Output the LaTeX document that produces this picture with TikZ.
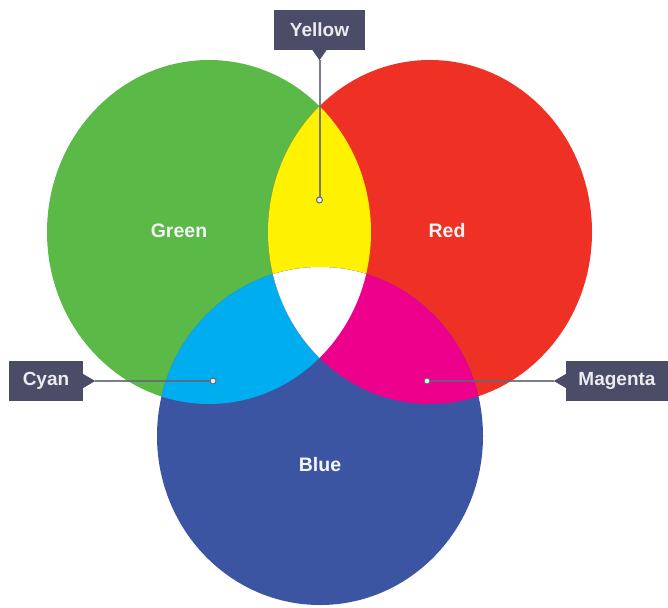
\documentclass[tikz,border=0pt]{standalone}
\usepackage{fontspec}
\setmainfont{Liberation Sans}
\usetikzlibrary{calc}
\definecolor{cgreen}{RGB}{91,185,71}
\definecolor{cred}{RGB}{238,49,36}
\definecolor{cblue}{RGB}{59,85,163}
\definecolor{cyellow}{RGB}{255,242,0}
\definecolor{ccyan}{RGB}{0,174,239}
\definecolor{cmagenta}{RGB}{236,0,140}
\definecolor{labbg}{RGB}{74,76,104}
\definecolor{labtxt}{RGB}{235,235,240}
\definecolor{leader}{RGB}{100,102,122}
\tikzset{
  lab/.style={fill=labbg, text=labtxt, font=\fontsize{19}{22}\selectfont\bfseries,
    minimum height=40pt, inner sep=0pt, anchor=center},
  areatext/.style={text=white!92!gray, font=\fontsize{19.5}{22}\selectfont\bfseries},
  leaderline/.style={draw=leader, line width=2pt, opacity=0.85},
  dotmark/.style={circle, draw=leader, fill=white!85!gray, line width=1pt, minimum size=6pt, inner sep=0pt}
}
\begin{document}
\begin{tikzpicture}[x=1pt,y=-1pt]
\useasboundingbox (0,0) rectangle (668,607);
% primary ellipses
\def\greenpath{(209,232) ellipse [x radius=162, y radius=172]}
\def\redpath{(430,232) ellipse [x radius=162, y radius=172]}
\def\bluepath{(320,436) ellipse [x radius=163, y radius=169]}
\fill[cgreen] \greenpath;
\fill[cred] \redpath;
\fill[cblue] \bluepath;
% overlaps
\begin{scope}
  \clip \greenpath;
  \fill[cyellow] \redpath;
\end{scope}
\begin{scope}
  \clip \greenpath;
  \fill[ccyan] \bluepath;
\end{scope}
\begin{scope}
  \clip \redpath;
  \fill[cmagenta] \bluepath;
\end{scope}
\begin{scope}
  \clip \greenpath;
  \clip \redpath;
  \fill[white] \bluepath;
\end{scope}
% area labels
\node[areatext] (tgreen) at (179,231) {Green};
\node[areatext] (tred) at (447,231) {Red};
\node[areatext] (tblue) at (320,465) {Blue};
% callout labels
\node[lab, minimum width=91pt] (ylab) at (319.5,30) {Yellow};
\node[lab, minimum width=74pt] (clab) at (46,381) {Cyan};
\node[lab, minimum width=102pt] (mlab) at (617,381) {Magenta};
% pointers
\fill[labbg] ($(ylab.south)+(-7,0)$) -- ($(ylab.south)+(0,10)$) -- ($(ylab.south)+(7,0)$) -- cycle;
\fill[labbg] ($(clab.east)+(0,-7)$) -- ($(clab.east)+(12,0)$) -- ($(clab.east)+(0,7)$) -- cycle;
\fill[labbg] ($(mlab.west)+(0,-7)$) -- ($(mlab.west)+(-12,0)$) -- ($(mlab.west)+(0,7)$) -- cycle;
\coordinate (ytip) at ($(ylab.south)+(0,10)$);
\coordinate (ctip) at ($(clab.east)+(12,0)$);
\coordinate (mtip) at ($(mlab.west)+(-12,0)$);
% dots
\node[dotmark] (ydot) at (319.5,200) {};
\node[dotmark] (cdot) at (213,381) {};
\node[dotmark] (mdot) at (427,381) {};
% leaders
\draw[leaderline] (ytip) -- (ydot);
\draw[leaderline] (ctip) -- (cdot);
\draw[leaderline] (mtip) -- (mdot);
\end{tikzpicture}
\end{document}
